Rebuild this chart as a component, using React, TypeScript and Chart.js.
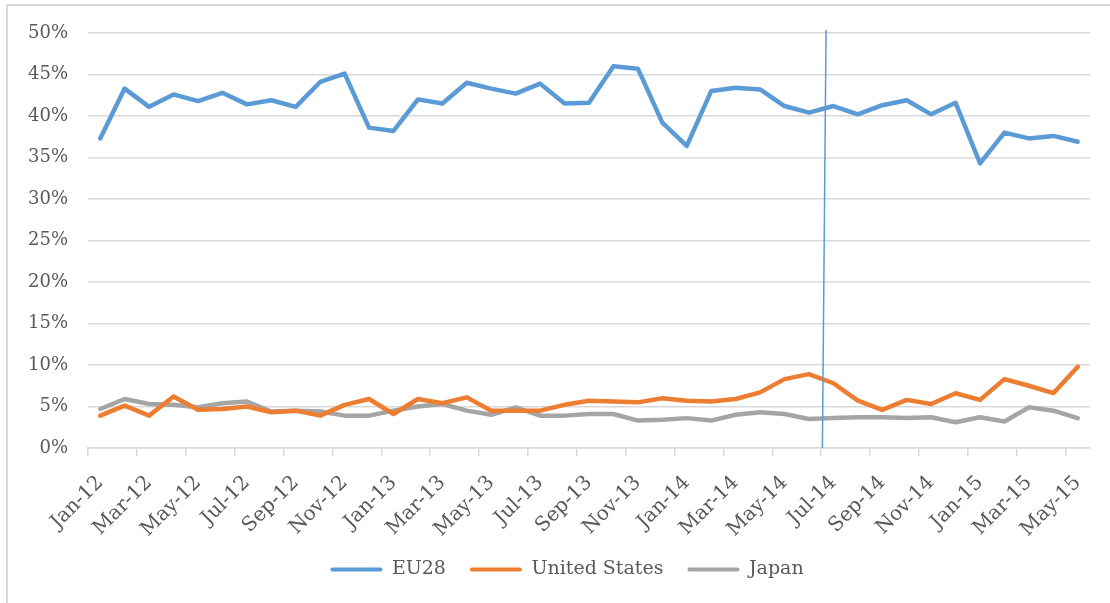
import React, { useEffect, useRef } from "react";
import { Chart, registerables } from "chart.js";

Chart.register(...registerables);

const months = ["Jan", "Feb", "Mar", "Apr", "May", "Jun", "Jul", "Aug", "Sep", "Oct", "Nov", "Dec"];
const years = ["12", "13", "14", "15"];
const categories: string[] = [];
for (const y of years) {
  for (const m of months) {
    categories.push(`${m}-${y}`);
  }
}
const labelsShown = categories.slice(0, 41);

const eu28 = [
  37.3, 43.3, 41.1, 42.6, 41.8, 42.8, 41.4, 41.9, 41.1, 44.1,
  45.1, 38.6, 38.2, 42.0, 41.5, 44.0, 43.3, 42.7, 43.9, 41.5,
  41.6, 46.0, 45.7, 39.2, 36.4, 43.0, 43.4, 43.2, 41.2, 40.4,
  41.2, 40.2, 41.3, 41.9, 40.2, 41.6, 34.3, 38.0, 37.3, 37.6,
  36.9,
];
const unitedStates = [
  3.9, 5.1, 3.9, 6.2, 4.6, 4.7, 5.0, 4.3, 4.5, 3.9,
  5.2, 5.9, 4.1, 5.9, 5.4, 6.1, 4.5, 4.5, 4.5, 5.2,
  5.7, 5.6, 5.5, 6.0, 5.7, 5.6, 5.9, 6.7, 8.3, 8.9,
  7.8, 5.7, 4.6, 5.8, 5.3, 6.6, 5.8, 8.3, 7.5, 6.6,
  9.8,
];
const japan = [
  4.7, 5.9, 5.3, 5.2, 4.9, 5.4, 5.6, 4.4, 4.5, 4.4,
  3.9, 3.9, 4.5, 5.0, 5.3, 4.5, 4.0, 4.9, 3.9, 3.9,
  4.1, 4.1, 3.3, 3.4, 3.6, 3.3, 4.0, 4.3, 4.1, 3.5,
  3.6, 3.7, 3.7, 3.6, 3.7, 3.1, 3.7, 3.2, 4.9, 4.5,
  3.6,
];
const seriesNames = ["EU28", "United States", "Japan"];
const seriesColors = ["#5b9bd5", "#ed7d31", "#a5a5a5"];
const yTicks = [0, 5, 10, 15, 20, 25, 30, 35, 40, 45, 50];

// annotation line (category index / percent value), drawn through scales
const markerTop = { index: 29.7, value: 50.4 };
const markerBottom = { index: 29.55, value: 0 };

const FONT = "'DejaVu Serif', 'Liberation Serif', serif";
const TEXT = "#595959";
const GRID = "#d9d9d9";
const LEGEND_SHIFT = 22;

const markerPlugin = {
  id: "markerLine",
  afterLayout(chart: any) {
    if (chart.legend) {
      chart.legend.left += LEGEND_SHIFT;
      chart.legend.right += LEGEND_SHIFT;
    }
  },
  afterDatasetsDraw(chart: any) {
    const x = chart.scales.x;
    const y = chart.scales.y;
    const ctx = chart.ctx;
    ctx.save();
    ctx.strokeStyle = "#5b9bd5";
    ctx.lineWidth = 1.5;
    ctx.beginPath();
    ctx.moveTo(x.getPixelForValue(markerTop.index), y.getPixelForValue(markerTop.value));
    ctx.lineTo(x.getPixelForValue(markerBottom.index), y.getPixelForValue(markerBottom.value));
    ctx.stroke();
    ctx.restore();
  },
};

export default function App() {
  const ref = useRef<HTMLCanvasElement>(null);
  useEffect(() => {
    if (!ref.current) return;
    const data = [eu28, unitedStates, japan];
    const chart = new Chart(ref.current, {
      type: "line",
      data: {
        labels: labelsShown,
        datasets: seriesNames.map((name, i) => ({
          label: name,
          data: data[i],
          borderColor: seriesColors[i],
          backgroundColor: seriesColors[i],
          borderWidth: 4.5,
          pointRadius: 0,
          tension: 0,
          borderJoinStyle: "round" as const,
          borderCapStyle: "round" as const,
        })),
      },
      plugins: [markerPlugin],
      options: {
        animation: false,
        responsive: false,
        maintainAspectRatio: false,
        layout: { padding: { top: 33, right: 20, bottom: 14, left: 0 } },
        plugins: {
          tooltip: { enabled: false },
          legend: {
            position: "bottom",
            labels: {
              color: TEXT,
              font: { family: FONT, size: 19 },
              boxWidth: 52,
              boxHeight: 4,
              padding: 24,
              useBorderRadius: true,
              borderRadius: 2,
              generateLabels(chart: any) {
                return chart.data.datasets.map((ds: any, i: number) => ({
                  text: ds.label,
                  fillStyle: ds.borderColor,
                  strokeStyle: ds.borderColor,
                  lineWidth: 0,
                  fontColor: TEXT,
                  hidden: false,
                  datasetIndex: i,
                  borderRadius: 2,
                }));
              },
            },
          },
        },
        scales: {
          x: {
            offset: true,
            afterFit(scale: any) {
              scale.height = 88;
            },
            grid: {
              offset: true,
              drawOnChartArea: false,
              drawTicks: true,
              tickLength: 8,
              lineWidth: 1.5,
              color: (ctx: any) => (ctx.index % 2 === 0 ? GRID : "rgba(0,0,0,0)"),
            },
            border: { display: true, color: GRID, width: 1.5 },
            ticks: {
              autoSkip: false,
              maxRotation: 45,
              minRotation: 45,
              padding: 15,
              color: TEXT,
              font: { family: FONT, size: 20 },
              callback: (_v: any, i: number) => (i % 2 === 0 ? labelsShown[i] : ""),
            },
          },
          y: {
            min: 0,
            max: 50,
            afterFit(scale: any) {
              scale.width = 88;
            },
            afterBuildTicks(scale: any) {
              scale.ticks = yTicks.map((v) => ({ value: v }));
            },
            grid: { color: GRID, lineWidth: 1.5, drawTicks: false },
            border: { display: false },
            ticks: {
              padding: 20,
              color: TEXT,
              font: { family: FONT, size: 18 },
              callback: (v: any) => `${v}%`,
            },
          },
        },
      },
    });
    return () => chart.destroy();
  }, []);

  return (
    <div style={{ position: "fixed", left: 0, top: 0, width: 1110, height: 603, overflow: "hidden", background: "#fff" }}>
      <div
        style={{
          position: "absolute",
          left: 6,
          top: 4,
          width: 1300,
          height: 800,
          borderLeft: "2px solid #d9d9d9",
          borderTop: "2px solid #d9d9d9",
        }}
      />
      <canvas ref={ref} width={1110} height={603} style={{ position: "absolute", left: 0, top: 0, width: 1110, height: 603 }} />
    </div>
  );
}
